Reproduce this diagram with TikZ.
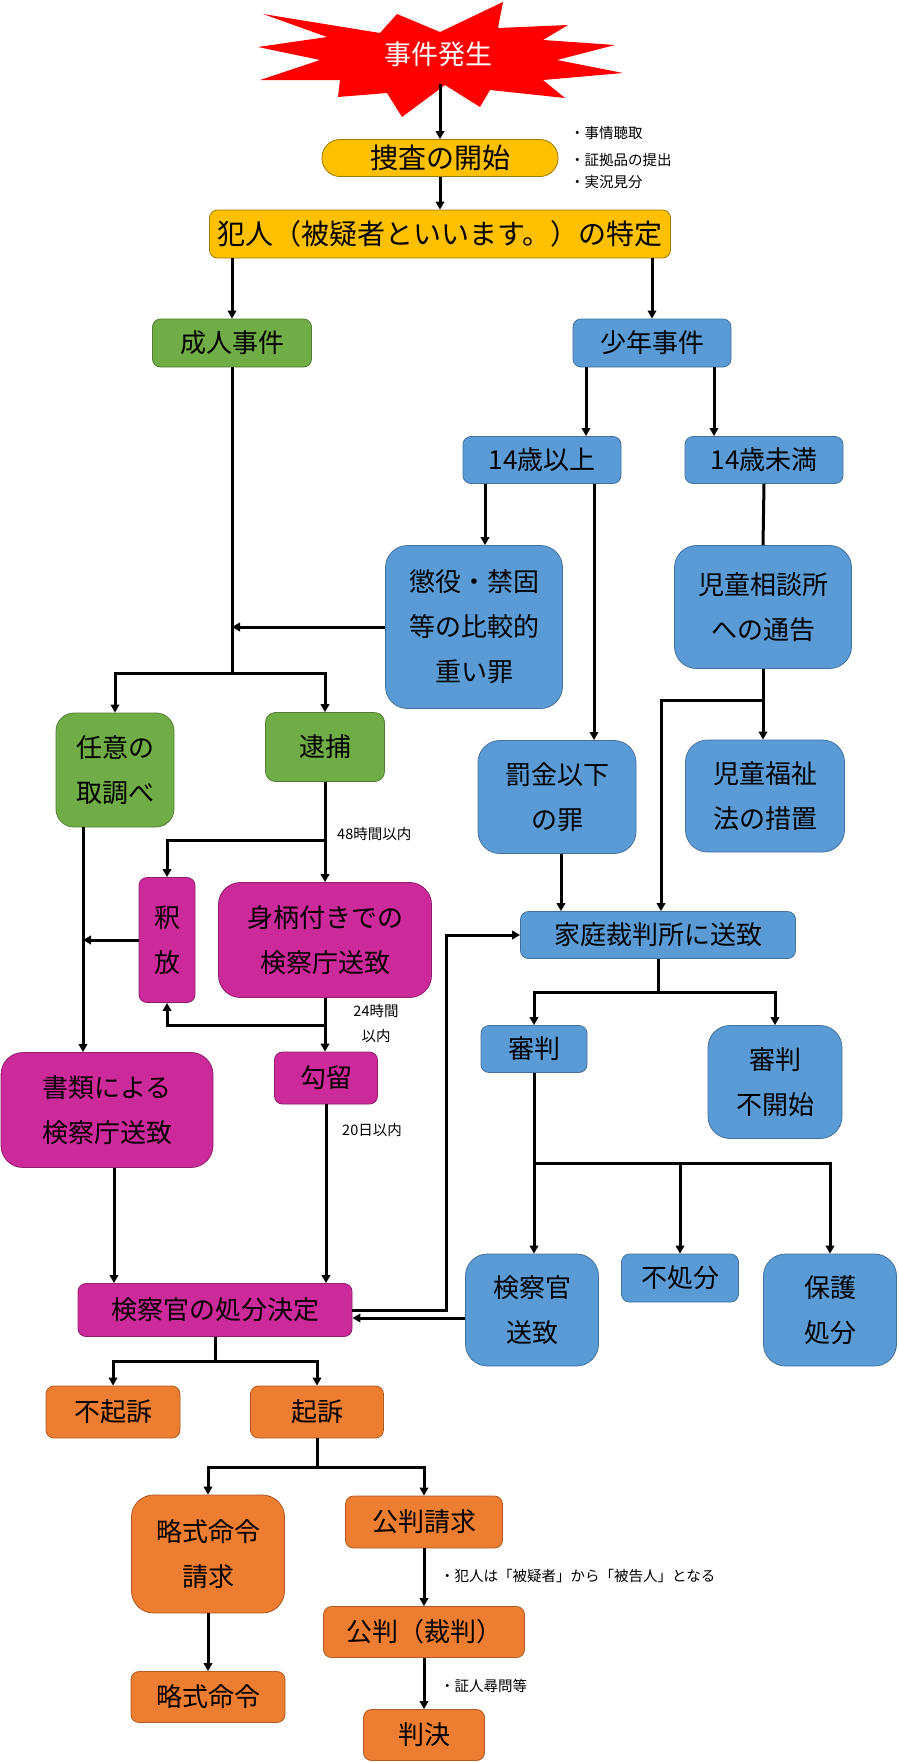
\documentclass[tikz,border=0pt]{standalone}
\usepackage{fontspec}
\newfontfamily\jp{Noto Sans CJK JP}
\usetikzlibrary{arrows.meta,calc}
\definecolor{yfill}{HTML}{FFC000}
\definecolor{yline}{HTML}{A07A00}
\definecolor{gfill}{HTML}{70AD47}
\definecolor{gline}{HTML}{507E32}
\definecolor{bfill}{HTML}{5B9BD5}
\definecolor{bline}{HTML}{41719C}
\definecolor{mfill}{HTML}{CC2A9B}
\definecolor{mline}{HTML}{8E1D6C}
\definecolor{ofill}{HTML}{ED7D31}
\definecolor{oline}{HTML}{AE5A21}
\definecolor{burstred}{HTML}{FF0000}
\begin{document}
\begin{tikzpicture}[x=1pt,y=-1pt,
  base/.style={rectangle, inner sep=0pt, align=center, line width=0.8pt,
    rounded corners=8pt, font=\jp\fontsize{26}{45}\selectfont},
  big/.style={rounded corners=22pt},
  ybox/.style={base, fill=yfill, draw=yline},
  gbox/.style={base, fill=gfill, draw=gline},
  bbox/.style={base, fill=bfill, draw=bline},
  mbox/.style={base, fill=mfill, draw=mline},
  obox/.style={base, fill=ofill, draw=oline},
  sz/.style 2 args={minimum width=#1, minimum height=#2},
  note/.style={inner sep=0pt, anchor=west, font=\jp\fontsize{14.5}{17}\selectfont},
  conn/.style={line width=3pt},
  arr/.style={conn, -{Triangle[length=8pt,width=8.5pt]}}
]
\useasboundingbox (0,0) rectangle (898,1762);
\fill[white] (0,0) rectangle (898,1762);

% starburst
\fill[burstred] (263,14) -- (380,33) -- (397,14) -- (440,32) -- (503,2) -- (498,28)
  -- (568,25) -- (543,40) -- (615,45) -- (557,60) -- (623,73) -- (543,80)
  -- (565,98) -- (490,90) -- (480,107) -- (445,85) -- (402,117) -- (387,93)
  -- (338,97) -- (340,80) -- (260,80) -- (320,60) -- (258,47) -- (327,37) -- cycle;
\node[inner sep=0pt, text=white, font=\jp\fontsize{27}{30}\selectfont] (burst) at (438,54) {事件発生};
\coordinate (burstbot) at (440,84);

\node[ybox, sz={236}{37}, rounded corners=18pt, font=\jp\fontsize{28}{30}\selectfont] (sousa) at (440,158) {捜査の開始};
\node[ybox, sz={461}{48}, font=\jp\fontsize{28}{30}\selectfont] (hannin) at (440,234) {犯人（被疑者といいます。）の特定};
\node[gbox, sz={159}{48}] (seijin) at (232,343) {成人事件};
\node[bbox, sz={158}{48}] (shonen) at (652,343) {少年事件};
\node[bbox, sz={158}{47}] (over) at (542,460) {14歳以上};
\node[bbox, sz={158}{47}] (under) at (764,460) {14歳未満};
\node[bbox, big, sz={177}{163}] (choueki) at (474,627) {懲役・禁固\\等の比較的\\重い罪};
\node[bbox, big, sz={177}{123}] (jidou) at (763,607) {児童相談所\\への通告};
\node[gbox, rounded corners=18pt, sz={118}{114}] (nini) at (115,770) {任意の\\取調べ};
\node[gbox, rounded corners=10pt, sz={119}{69}] (taiho) at (325,747) {逮捕};
\node[bbox, big, sz={158}{113}] (bakkin) at (557,797) {罰金以下\\の罪};
\node[bbox, big, sz={159}{112}] (fukushi) at (765,796) {児童福祉\\法の措置};
\node[mbox, sz={56}{125}] (shakuho) at (167,940) {釈\\放};
\node[mbox, big, sz={213}{115}] (migara) at (325,940) {身柄付きでの\\検察庁送致};
\node[bbox, sz={275}{47}] (katei) at (658,935) {家庭裁判所に送致};
\node[bbox, sz={106}{47}] (shinpan) at (534,1049) {審判};
\node[bbox, big, sz={134}{113}] (fukaishi) at (775,1082) {審判\\不開始};
\node[mbox, big, sz={212}{115}] (shorui) at (107,1110) {書類による\\検察庁送致};
\node[mbox, sz={103}{52}] (koryu) at (326,1078) {勾留};
\node[bbox, big, sz={133}{112}] (kenso) at (532,1310) {検察官\\送致};
\node[bbox, sz={117}{48}] (fusho) at (680,1278) {不処分};
\node[bbox, big, sz={133}{112}] (hogo) at (830,1310) {保護\\処分};
\node[mbox, sz={274}{53}] (shobun) at (215,1310) {検察官の処分決定};
\node[obox, sz={134}{52}] (fukiso) at (113,1412) {不起訴};
\node[obox, sz={133}{52}] (kiso) at (317,1412) {起訴};
\node[obox, big, sz={153}{118}] (ryakuse) at (208,1554) {略式命令\\請求};
\node[obox, sz={157}{52}] (kohanse) at (424,1522) {公判請求};
\node[obox, sz={201}{51}] (kohan) at (424,1632) {公判（裁判）};
\node[obox, sz={121}{51}] (hanketsu) at (424,1735) {判決};
\node[obox, sz={154}{51}] (ryaku) at (208,1697) {略式命令};

% notes
\node[note] (n1) at (570,133) {・事情聴取};
\node[note] (n2) at (570,160) {・証拠品の提出};
\node[note] (n3) at (570,182) {・実況見分};
\node[note] (n4) at (337,834) {48時間以内};
\node[note, anchor=center] (n5) at (376,1011) {24時間};
\node[note, anchor=center] (n6) at (376,1036) {以内};
\node[note] (n7) at (342,1130) {20日以内};
\node[note] (n8) at (440,1576) {・犯人は「被疑者」から「被告人」となる};
\node[note] (n9) at (440,1686) {・証人尋問等};

% connectors
\draw[arr] (burstbot) -- (sousa.north);
\draw[arr] (sousa.south) -- (hannin.north);
\draw[arr] (hannin.south -| seijin.north) -- (seijin.north);
\draw[arr] (hannin.south -| shonen.north) -- (shonen.north);
\draw[arr] ([xshift=-66pt]shonen.south) -- ([xshift=-66pt]shonen.south |- over.north);
\draw[arr] ([xshift=62pt]shonen.south) -- ([xshift=62pt]shonen.south |- under.north);
\draw[arr] ([xshift=-57pt]over.south) -- ([xshift=-57pt]over.south |- choueki.north);
\draw[arr] ([xshift=52pt]over.south) -- ([xshift=52pt]over.south |- bakkin.north);
\draw[conn] (under.south) -- (jidou.north);
\coordinate (jj) at (763,700);
\draw[arr] (jidou.south) -- (jidou.south |- fukushi.north);
\draw[arr] (jj) -| ([xshift=3pt]katei.north);
\draw[arr] ([xshift=4pt]bakkin.south) -- ([xshift=4pt]bakkin.south |- katei.north);
\draw[arr] (choueki.west) -- (choueki.west -| seijin.south);
\coordinate (sb) at (232,673);
\draw[conn] (seijin.south) -- (sb);
\draw[arr] (sb) -| (nini.north);
\draw[arr] (sb) -| (taiho.north);
\draw[arr] (taiho.south) -- (migara.north);
\coordinate (tb) at (325,840);
\draw[arr] (tb) -| (shakuho.north);
\coordinate (nl) at ([xshift=-32pt]nini.south);
\draw[arr] (nl) -- (nl |- shorui.north);
\draw[arr] (shakuho.west) -- (shakuho.west -| nl);
\draw[arr] (migara.south) -- (migara.south |- koryu.north);
\coordinate (mb) at (325,1025);
\draw[arr] (mb) -| (shakuho.south);
\draw[arr] ([xshift=7pt]shorui.south) -- ([xshift=7pt]shorui.south |- shobun.north);
\draw[arr] (koryu.south) -- (koryu.south |- shobun.north);
\draw[arr] (shobun.east) -- ++(94,0) |- (katei.west);
\draw[arr] ([yshift=-8pt]kenso.west) -- ([yshift=-8pt]kenso.west -| shobun.east);
\coordinate (kb) at (658,992);
\draw[conn] (katei.south) -- (kb);
\draw[arr] (kb) -| (shinpan.north);
\draw[arr] (kb) -| (fukaishi.north);
\coordinate (sh2) at (534,1163);
\draw[arr] (shinpan.south) -- (shinpan.south |- kenso.north);
\draw[arr] (sh2) -| (fusho.north);
\draw[arr] (sh2) -| (hogo.north);
\coordinate (db) at (215,1361);
\draw[conn] (shobun.south) -- (db);
\draw[arr] (db) -| (fukiso.north);
\draw[arr] (db) -| (kiso.north);
\coordinate (kib) at (317,1467);
\draw[conn] (kiso.south) -- (kib);
\draw[arr] (kib) -| (ryakuse.north);
\draw[arr] (kib) -| (kohanse.north);
\draw[arr] (kohanse.south) -- (kohan.north);
\draw[arr] (kohan.south) -- (hanketsu.north);
\draw[arr] (ryakuse.south) -- (ryaku.north);
\end{tikzpicture}
\end{document}
